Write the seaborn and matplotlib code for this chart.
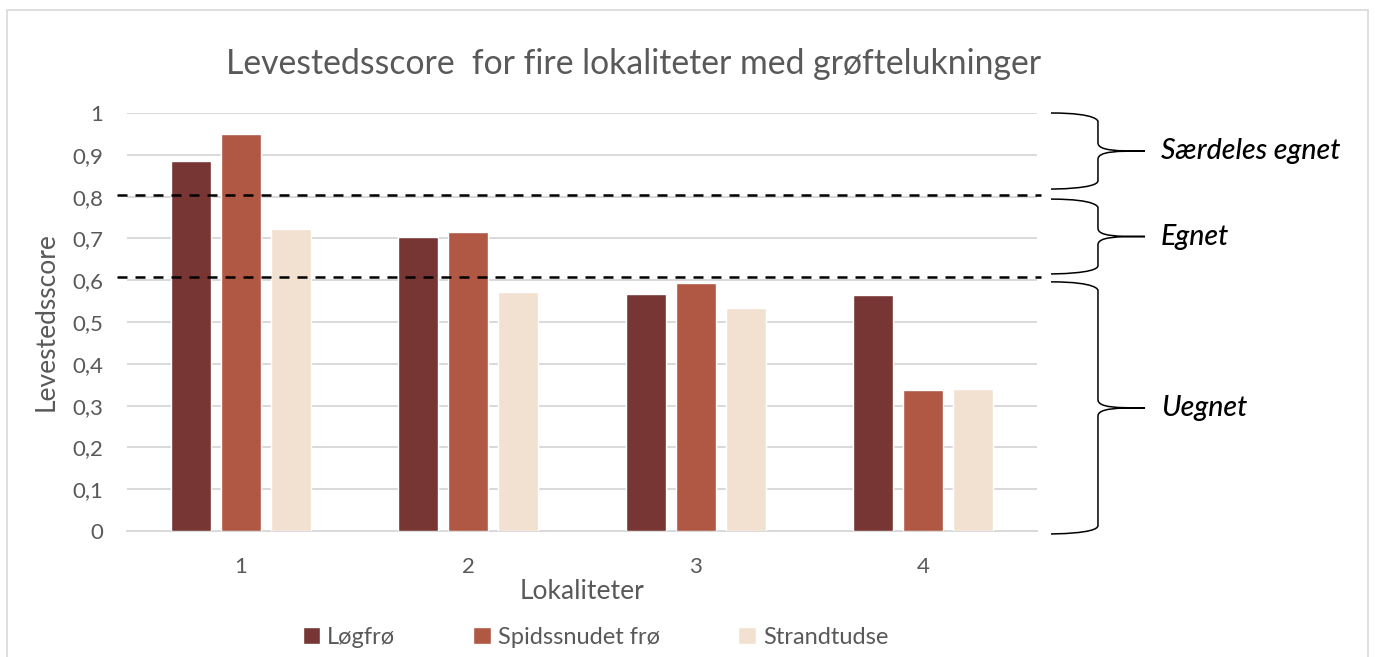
import numpy as np
import pandas as pd
import seaborn as sns
import matplotlib.pyplot as plt
from matplotlib.path import Path
from matplotlib.patches import PathPatch, Rectangle
import matplotlib.transforms as mtransforms

# data
lokaliteter = ['1', '2', '3', '4']
arter = ['Løgfrø', 'Spidssnudet frø', 'Strandtudse']
logfro = [0.885, 0.704, 0.566, 0.564]
spidssnudet = [0.950, 0.716, 0.594, 0.337]
strandtudse = [0.722, 0.572, 0.533, 0.340]
farver = ['#773634', '#B05844', '#F2E0D0']

# habitat zones (upper, lower, label)
graenser = [0.805, 0.607]
zone_navne = ['Særdeles egnet', 'Egnet', 'Uegnet']
zone_top = [1.0, 0.794, 0.596]
zone_bund = [0.818, 0.615, -0.007]

rows = []
for art, vals in zip(arter, [logfro, spidssnudet, strandtudse]):
    for lok, v in zip(lokaliteter, vals):
        rows.append({'Lokalitet': lok, 'Art': art, 'Score': v})
df = pd.DataFrame(rows)

sns.set_style('white')
plt.rcParams['font.family'] = ['Lato', 'DejaVu Sans']
grey = '#595959'

fig = plt.figure(figsize=(13.75, 6.57), dpi=100)
ax = fig.add_axes([127 / 1375, 126 / 657, 910 / 1375, 418 / 657])

sns.barplot(data=df, x='Lokalitet', y='Score', hue='Art', palette=farver,
            width=0.66, gap=0.2, saturation=1, errorbar=None, ax=ax,
            order=lokaliteter, hue_order=arter, zorder=3)

ax.set_xlim(-0.5, 3.5)
ax.set_ylim(0, 1)
ax.set_yticks(np.arange(0, 1.01, 0.1))
ax.set_yticklabels(['0', '0,1', '0,2', '0,3', '0,4', '0,5', '0,6', '0,7', '0,8', '0,9', '1'])
ax.yaxis.grid(True, color='#D9D9D9', linewidth=1.4, zorder=0)
ax.set_axisbelow(True)
for s in ['top', 'right', 'left']:
    ax.spines[s].set_visible(False)
ax.spines['bottom'].set_color('#D9D9D9')
ax.spines['bottom'].set_linewidth(1.4)
ax.tick_params(axis='y', length=0, pad=17, labelsize=16, labelcolor=grey)
ax.tick_params(axis='x', length=0, pad=19, labelsize=16, labelcolor=grey)

ax.set_xlabel('Lokaliteter', fontsize=19, color=grey, labelpad=1)
ax.set_ylabel('Levestedsscore', fontsize=19, color=grey, labelpad=10)
fig.text(0.461, 0.902, 'Levestedsscore  for fire lokaliteter med grøftelukninger',
         ha='center', va='center', fontsize=24.3, color=grey)

# threshold lines
for g in graenser:
    ax.axhline(g, xmin=-0.011, xmax=1.004, color='black', lw=1.8,
               dashes=(4, 3.2), clip_on=False, zorder=4)

# braces on the right
trans = mtransforms.blended_transform_factory(ax.transAxes, ax.transData)
x0, xv, xt, xl = 1.0154, 1.067, 1.1187, 1.1363
for navn, top, bund in zip(zone_navne, zone_top, zone_bund):
    mid = (top + bund) / 2
    e = 0.02
    verts = [(x0, top), (xv, top), (xv, top - e), (xv, top - e),
             (xv, mid + e),
             (xv, mid), (xt - 0.03, mid), (xt, mid),
             (xt - 0.03, mid), (xv, mid), (xv, mid - e),
             (xv, bund + e),
             (xv, bund), (x0, bund), (x0, bund)]
    codes = [Path.MOVETO, Path.CURVE4, Path.CURVE4, Path.CURVE4,
             Path.LINETO,
             Path.CURVE4, Path.CURVE4, Path.CURVE4,
             Path.CURVE4, Path.CURVE4, Path.CURVE4,
             Path.LINETO,
             Path.CURVE4, Path.CURVE4, Path.CURVE4]
    ax.add_patch(PathPatch(Path(verts, codes), transform=trans, fill=False,
                           lw=1.1, color='black', clip_on=False))
    ax.text(xl, mid, navn, transform=trans, ha='left', va='center',
            fontsize=20.5, style='italic', fontweight='medium', color='black')

# legend
h, l = ax.get_legend_handles_labels()
ax.legend(h, l, loc='center', bbox_to_anchor=(0.433, 0.03),
          bbox_transform=fig.transFigure, ncol=3, frameon=False,
          handlelength=0.75, handleheight=0.75, handletextpad=0.3,
          columnspacing=3.3, fontsize=17, labelcolor=grey)

# chart border
fig.patches.append(Rectangle((7 / 1375, -0.05), 1361 / 1375, 1.05 - 10 / 657,
                             transform=fig.transFigure, fill=False,
                             edgecolor='#D9D9D9', lw=1.2))

fig.savefig('out.png', dpi=100)
